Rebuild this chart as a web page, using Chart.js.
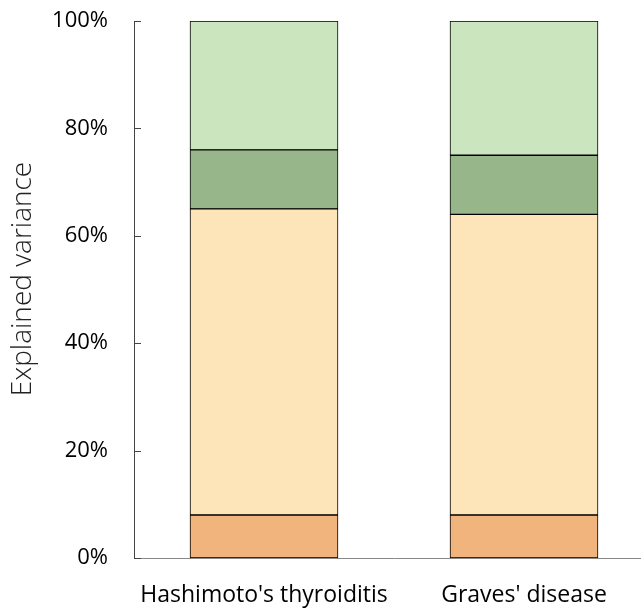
<!DOCTYPE html>
<html><head><meta charset="utf-8">
<script src="https://cdn.jsdelivr.net/npm/chart.js@4/dist/chart.umd.min.js"></script>
<style>html,body{margin:0;padding:0;overflow:hidden;background:#fff}#wrap{width:654px;height:610px}</style>
</head><body><div id="wrap"><canvas id="c" width="654" height="610"></canvas></div>
<script>
const categories = ["Hashimoto's thyroiditis", "Graves' disease"];
const seriesA = [8, 8];
const seriesB = [57, 56];
const seriesC = [11, 11];
const seriesD = [24, 25];
const yTicks = [0, 20, 40, 60, 80, 100];
const yTitle = 'Explained variance';
const colors = ['#F0B47C', '#FDE5B9', '#97B78A', '#CBE6BF'];
const FONT = "'Open Sans', sans-serif";

const extras = {
  id: 'extras',
  afterDraw(chart) {
    const ctx = chart.ctx, y = chart.scales.y, left = chart.chartArea.left;
    ctx.save();
    ctx.strokeStyle = '#444'; ctx.lineWidth = 1;
    yTicks.forEach(v => {
      const py = Math.round(y.getPixelForValue(v)) + 0.5;
      ctx.beginPath(); ctx.moveTo(left, py); ctx.lineTo(left + 7, py); ctx.stroke();
    });
    ctx.translate(23, 279);
    ctx.rotate(-Math.PI / 2);
    ctx.fillStyle = '#222';
    ctx.font = "300 28px 'Open Sans', sans-serif";
    ctx.textAlign = 'center'; ctx.textBaseline = 'middle';
    ctx.fillText(yTitle, 0, 0);
    ctx.restore();
  }
};

const ds = [seriesA, seriesB, seriesC, seriesD].map((d, i) => ({
  data: d, backgroundColor: colors[i], borderColor: '#000', borderWidth: 1,
  barThickness: 148, borderSkipped: false
}));

new Chart(document.getElementById('c'), {
  type: 'bar',
  data: { labels: categories, datasets: ds },
  options: {
    responsive: false, animation: false,
    layout: { padding: { top: 21, right: 0, left: 0, bottom: 0 } },
    plugins: { legend: { display: false }, tooltip: { enabled: false } },
    scales: {
      x: {
        stacked: true,
        grid: { display: false, drawTicks: false },
        border: { display: true, color: '#888', width: 1 },
        ticks: { padding: 24, color: '#000', font: { family: FONT, size: 23 } },
        afterFit(s) { s.height = 52; s.paddingLeft = 0; s.paddingRight = 0; }
      },
      y: {
        stacked: true, min: 0, max: 100,
        grid: { display: false, drawTicks: false },
        border: { display: true, color: '#444', width: 1 },
        afterBuildTicks(s) { s.ticks = yTicks.map(v => ({ value: v })); },
        ticks: { padding: 26, color: '#000', font: { family: FONT, size: 22 }, callback: v => v + '%' },
        afterFit(s) { s.width = 134; s.paddingTop = 0; s.paddingBottom = 0; }
      }
    }
  },
  plugins: [extras]
});
</script></body></html>
